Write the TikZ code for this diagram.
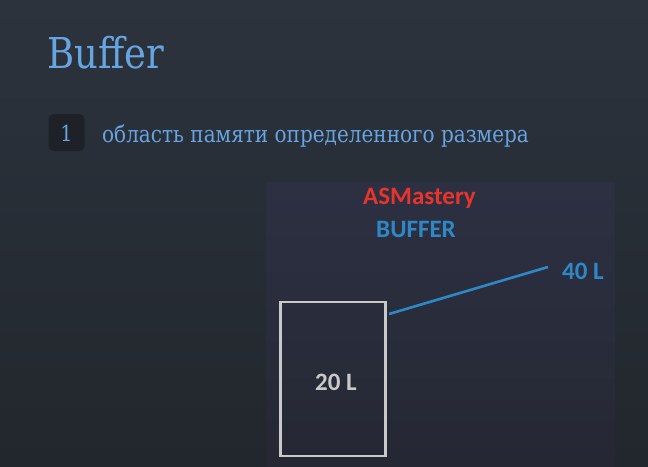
\documentclass[tikz,border=0pt]{standalone}
\usepackage{graphicx}
\usepackage{fontspec}
\setmainfont{DejaVu Serif}
\newfontfamily\panelfont{Carlito}
\newcommand{\narrowtext}[1]{\scalebox{0.87}[1]{#1}}
\begin{document}
\begin{tikzpicture}[x=1pt,y=-1pt,
  slidetext/.style={inner sep=0pt, text=titleblue},
  paneltext/.style={inner sep=0pt, font=\panelfont\bfseries\fontsize{25}{29}\selectfont},
]
\definecolor{titleblue}{HTML}{67A4E2}
\definecolor{bgtop}{HTML}{2C333D}
\definecolor{bgbot}{HTML}{22272D}
\definecolor{paneltop}{HTML}{2D3042}
\definecolor{panelbot}{HTML}{252833}
\definecolor{badge}{HTML}{1E2228}
\definecolor{asred}{HTML}{E8342B}
\definecolor{asblue}{HTML}{2F88C6}
\definecolor{boxgray}{HTML}{C9C9C9}
\useasboundingbox (0,0) rectangle (648,466);
\shade[top color=bgtop, bottom color=bgbot] (0,0) rectangle (648,466);
\shade[top color=paneltop, bottom color=panelbot] (266,182) rectangle (615,466);
% title
\node[slidetext, anchor=base west, font=\fontsize{42.5}{50}\selectfont] (title) at (47,68) {\narrowtext{Buffer}};
% bullet
\node[fill=badge, rounded corners=5pt, minimum width=36pt, minimum height=37pt, inner sep=0pt] (badge) at (66.5,132.5) {};
\node[slidetext, anchor=base, font=\fontsize{22}{26}\selectfont] (num) at (66.5,141.7) {\narrowtext{1}};
\node[slidetext, anchor=base west, font=\fontsize{23}{27}\selectfont] (item) at (102,142) {\narrowtext{область памяти определенного размера}};
% panel content
\node[paneltext, text=asred, anchor=base] (asm) at (419.5,204) {ASMastery};
\node[paneltext, text=asblue, anchor=base] (buf) at (416,237) {BUFFER};
\node[draw=boxgray, line width=2.6pt, minimum width=105pt, minimum height=154pt, inner sep=0pt] (box) at (333,379) {};
\node[paneltext, text=boxgray, anchor=base] (l20) at (336,390) {20 L};
\node[paneltext, text=asblue, anchor=base west] (l40) at (562,279) {40 L};
\coordinate (c1) at (389,314);
\coordinate (c2) at (548,267);
\draw[asblue, line width=2.6pt] (c1) -- (c2);
\end{tikzpicture}
\end{document}
